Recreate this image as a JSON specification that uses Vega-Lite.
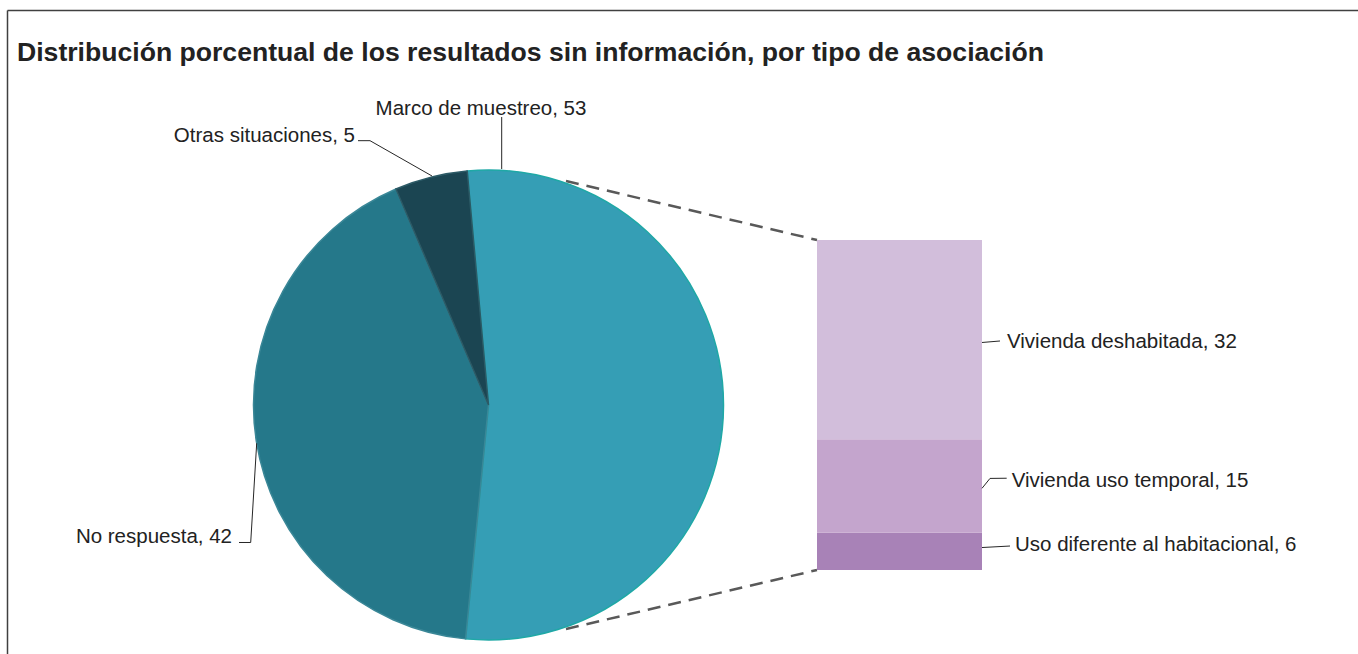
{
  "$schema": "https://vega.github.io/schema/vega-lite/v6.json",
  "width": 1358,
  "height": 654,
  "autosize": "none",
  "padding": 0,
  "background": "white",
  "config": {"view": {"stroke": null}, "font": "Liberation Sans", "text": {"font": "Liberation Sans", "color": "#222222", "fontSize": 20.5}},
  "datasets": {
    "pie": [
      {"cat": "Marco de muestreo", "value": 53, "order": 1},
      {"cat": "No respuesta", "value": 42, "order": 2},
      {"cat": "Otras situaciones", "value": 5, "order": 3}
    ],
    "bar": [
      {"cat": "Uso diferente al habitacional", "value": 6, "order": 1},
      {"cat": "Vivienda uso temporal", "value": 15, "order": 2},
      {"cat": "Vivienda deshabitada", "value": 32, "order": 3}
    ]
  },
  "data": {"values": [{}]},
  "layer": [
    {
      "mark": {"type": "rule", "stroke": "#404040", "strokeWidth": 1.5},
      "encoding": {
        "x": {"datum": 7.5, "type": "quantitative", "scale": {"domain": [0, 1358], "nice": false, "zero": false}, "axis": null},
        "y": {"datum": 89.86, "type": "quantitative", "scale": {"domain": [-13.491, 91.545], "nice": false, "zero": false}, "axis": null},
        "y2": {"datum": -13.491}
      }
    },
    {
      "mark": {"type": "rule", "stroke": "#404040", "strokeWidth": 1.5},
      "encoding": {
        "x": {"datum": 7.5, "type": "quantitative", "scale": {"domain": [0, 1358], "nice": false, "zero": false}, "axis": null},
        "x2": {"datum": 1358},
        "y": {"datum": 89.86, "type": "quantitative", "scale": {"domain": [-13.491, 91.545], "nice": false, "zero": false}, "axis": null}
      }
    },
    {
      "mark": {"type": "rule", "stroke": "#595959", "strokeWidth": 2.5, "strokeDash": [13, 8]},
      "encoding": {
        "x": {"datum": 566, "type": "quantitative", "scale": {"domain": [0, 1358], "nice": false, "zero": false}, "axis": null},
        "x2": {"datum": 817},
        "y": {"datum": 62.48, "type": "quantitative", "scale": {"domain": [-13.491, 91.545], "nice": false, "zero": false}, "axis": null},
        "y2": {"datum": 53}
      }
    },
    {
      "mark": {"type": "rule", "stroke": "#595959", "strokeWidth": 2.5, "strokeDash": [13, 8]},
      "encoding": {
        "x": {"datum": 566, "type": "quantitative", "scale": {"domain": [0, 1358], "nice": false, "zero": false}, "axis": null},
        "x2": {"datum": 817},
        "y": {"datum": -9.476, "type": "quantitative", "scale": {"domain": [-13.491, 91.545], "nice": false, "zero": false}, "axis": null},
        "y2": {"datum": 0}
      }
    },
    {
      "data": {"name": "pie"},
      "mark": {"type": "arc", "radius": 235, "strokeWidth": 1.5},
      "encoding": {
        "theta": {"field": "value", "type": "quantitative", "stack": true, "scale": {"range": [-0.0908, 6.1924]}},
        "order": {"field": "order", "type": "quantitative"},
        "color": {"field": "cat", "type": "nominal", "legend": null,
          "scale": {"domain": ["Marco de muestreo", "No respuesta", "Otras situaciones", "Vivienda deshabitada", "Vivienda uso temporal", "Uso diferente al habitacional"],
                    "range": ["#359EB5", "#25788A", "#1B4552", "#D2BEDB", "#C4A5CD", "#A882B7"]}},
        "stroke": {"field": "cat", "type": "nominal", "legend": null,
          "scale": {"domain": ["Marco de muestreo", "No respuesta", "Otras situaciones"], "range": ["#1FA8A6", "#3A8797", "#2C5A66"]}},
        "x": {"datum": 488.5, "type": "quantitative", "scale": {"domain": [0, 1358], "nice": false, "zero": false}, "axis": null},
        "y": {"datum": 26.5, "type": "quantitative", "scale": {"domain": [-13.491, 91.545], "nice": false, "zero": false}, "axis": null}
      }
    },
    {
      "data": {"name": "bar"},
      "transform": [{"stack": "value", "groupby": [], "sort": [{"field": "order"}], "as": ["y0", "y1"]}],
      "mark": {"type": "rect"},
      "encoding": {
        "x": {"datum": 817, "type": "quantitative", "scale": {"domain": [0, 1358], "nice": false, "zero": false}, "axis": null},
        "x2": {"datum": 982},
        "y": {"field": "y0", "type": "quantitative", "scale": {"domain": [-13.491, 91.545], "nice": false, "zero": false}, "axis": null},
        "y2": {"field": "y1"},
        "color": {"field": "cat", "type": "nominal", "legend": null,
          "scale": {"domain": ["Marco de muestreo", "No respuesta", "Otras situaciones", "Vivienda deshabitada", "Vivienda uso temporal", "Uso diferente al habitacional"],
                    "range": ["#359EB5", "#25788A", "#1B4552", "#D2BEDB", "#C4A5CD", "#A882B7"]}}
      }
    },
    {
      "mark": {"type": "rule", "stroke": "#262626", "strokeWidth": 1},
      "encoding": {
        "x": {"datum": 501.7, "type": "quantitative", "scale": {"domain": [0, 1358], "nice": false, "zero": false}, "axis": null},
        "y": {"datum": 72.75, "type": "quantitative", "scale": {"domain": [-13.491, 91.545], "nice": false, "zero": false}, "axis": null},
        "y2": {"datum": 64.4}
      }
    },
    {
      "mark": {"type": "rule", "stroke": "#262626", "strokeWidth": 1},
      "encoding": {
        "x": {"datum": 358, "type": "quantitative", "scale": {"domain": [0, 1358], "nice": false, "zero": false}, "axis": null},
        "x2": {"datum": 370},
        "y": {"datum": 68.95, "type": "quantitative", "scale": {"domain": [-13.491, 91.545], "nice": false, "zero": false}, "axis": null},
        "y2": {"datum": 68.95}
      }
    },
    {
      "mark": {"type": "rule", "stroke": "#262626", "strokeWidth": 1},
      "encoding": {
        "x": {"datum": 370, "type": "quantitative", "scale": {"domain": [0, 1358], "nice": false, "zero": false}, "axis": null},
        "x2": {"datum": 432},
        "y": {"datum": 68.95, "type": "quantitative", "scale": {"domain": [-13.491, 91.545], "nice": false, "zero": false}, "axis": null},
        "y2": {"datum": 63.28}
      }
    },
    {
      "mark": {"type": "rule", "stroke": "#262626", "strokeWidth": 1},
      "encoding": {
        "x": {"datum": 239, "type": "quantitative", "scale": {"domain": [0, 1358], "nice": false, "zero": false}, "axis": null},
        "x2": {"datum": 250.7},
        "y": {"datum": 4.417, "type": "quantitative", "scale": {"domain": [-13.491, 91.545], "nice": false, "zero": false}, "axis": null},
        "y2": {"datum": 4.417}
      }
    },
    {
      "mark": {"type": "rule", "stroke": "#262626", "strokeWidth": 1},
      "encoding": {
        "x": {"datum": 250.7, "type": "quantitative", "scale": {"domain": [0, 1358], "nice": false, "zero": false}, "axis": null},
        "x2": {"datum": 256.7},
        "y": {"datum": 4.417, "type": "quantitative", "scale": {"domain": [-13.491, 91.545], "nice": false, "zero": false}, "axis": null},
        "y2": {"datum": 20.35}
      }
    },
    {
      "mark": {"type": "rule", "stroke": "#262626", "strokeWidth": 1},
      "encoding": {
        "x": {"datum": 982, "type": "quantitative", "scale": {"domain": [0, 1358], "nice": false, "zero": false}, "axis": null},
        "x2": {"datum": 1000},
        "y": {"datum": 36.54, "type": "quantitative", "scale": {"domain": [-13.491, 91.545], "nice": false, "zero": false}, "axis": null},
        "y2": {"datum": 36.78}
      }
    },
    {
      "mark": {"type": "rule", "stroke": "#262626", "strokeWidth": 1},
      "encoding": {
        "x": {"datum": 982, "type": "quantitative", "scale": {"domain": [0, 1358], "nice": false, "zero": false}, "axis": null},
        "x2": {"datum": 990},
        "y": {"datum": 13.12, "type": "quantitative", "scale": {"domain": [-13.491, 91.545], "nice": false, "zero": false}, "axis": null},
        "y2": {"datum": 14.71}
      }
    },
    {
      "mark": {"type": "rule", "stroke": "#262626", "strokeWidth": 1},
      "encoding": {
        "x": {"datum": 990, "type": "quantitative", "scale": {"domain": [0, 1358], "nice": false, "zero": false}, "axis": null},
        "x2": {"datum": 1006.7},
        "y": {"datum": 14.71, "type": "quantitative", "scale": {"domain": [-13.491, 91.545], "nice": false, "zero": false}, "axis": null},
        "y2": {"datum": 14.74}
      }
    },
    {
      "mark": {"type": "rule", "stroke": "#262626", "strokeWidth": 1},
      "encoding": {
        "x": {"datum": 982, "type": "quantitative", "scale": {"domain": [0, 1358], "nice": false, "zero": false}, "axis": null},
        "x2": {"datum": 1010},
        "y": {"datum": 3.61, "type": "quantitative", "scale": {"domain": [-13.491, 91.545], "nice": false, "zero": false}, "axis": null},
        "y2": {"datum": 3.85}
      }
    },
    {
      "mark": {"type": "text", "align": "left", "baseline": "alphabetic", "fontSize": 26.6, "fontWeight": "bold"},
      "encoding": {
        "x": {"datum": 17, "type": "quantitative", "scale": {"domain": [0, 1358], "nice": false, "zero": false}, "axis": null},
        "y": {"datum": 81.75, "type": "quantitative", "scale": {"domain": [-13.491, 91.545], "nice": false, "zero": false}, "axis": null},
        "text": {"value": "Distribución porcentual de los resultados sin información, por tipo de asociación"}
      }
    },
    {
      "mark": {"type": "text", "align": "center", "baseline": "alphabetic"},
      "encoding": {
        "x": {"datum": 481, "type": "quantitative", "scale": {"domain": [0, 1358], "nice": false, "zero": false}, "axis": null},
        "y": {"datum": 73.08, "type": "quantitative", "scale": {"domain": [-13.491, 91.545], "nice": false, "zero": false}, "axis": null},
        "text": {"value": "Marco de muestreo, 53"}
      }
    },
    {
      "mark": {"type": "text", "align": "right", "baseline": "alphabetic"},
      "encoding": {
        "x": {"datum": 355, "type": "quantitative", "scale": {"domain": [0, 1358], "nice": false, "zero": false}, "axis": null},
        "y": {"datum": 68.74, "type": "quantitative", "scale": {"domain": [-13.491, 91.545], "nice": false, "zero": false}, "axis": null},
        "text": {"value": "Otras situaciones, 5"}
      }
    },
    {
      "mark": {"type": "text", "align": "right", "baseline": "alphabetic"},
      "encoding": {
        "x": {"datum": 232, "type": "quantitative", "scale": {"domain": [0, 1358], "nice": false, "zero": false}, "axis": null},
        "y": {"datum": 4.336, "type": "quantitative", "scale": {"domain": [-13.491, 91.545], "nice": false, "zero": false}, "axis": null},
        "text": {"value": "No respuesta, 42"}
      }
    },
    {
      "mark": {"type": "text", "align": "left", "baseline": "alphabetic"},
      "encoding": {
        "x": {"datum": 1007, "type": "quantitative", "scale": {"domain": [0, 1358], "nice": false, "zero": false}, "axis": null},
        "y": {"datum": 35.65, "type": "quantitative", "scale": {"domain": [-13.491, 91.545], "nice": false, "zero": false}, "axis": null},
        "text": {"value": "Vivienda deshabitada, 32"}
      }
    },
    {
      "mark": {"type": "text", "align": "left", "baseline": "alphabetic"},
      "encoding": {
        "x": {"datum": 1011.7, "type": "quantitative", "scale": {"domain": [0, 1358], "nice": false, "zero": false}, "axis": null},
        "y": {"datum": 13.33, "type": "quantitative", "scale": {"domain": [-13.491, 91.545], "nice": false, "zero": false}, "axis": null},
        "text": {"value": "Vivienda uso temporal, 15"}
      }
    },
    {
      "mark": {"type": "text", "align": "left", "baseline": "alphabetic"},
      "encoding": {
        "x": {"datum": 1015, "type": "quantitative", "scale": {"domain": [0, 1358], "nice": false, "zero": false}, "axis": null},
        "y": {"datum": 3.052, "type": "quantitative", "scale": {"domain": [-13.491, 91.545], "nice": false, "zero": false}, "axis": null},
        "text": {"value": "Uso diferente al habitacional, 6"}
      }
    }
  ]
}
